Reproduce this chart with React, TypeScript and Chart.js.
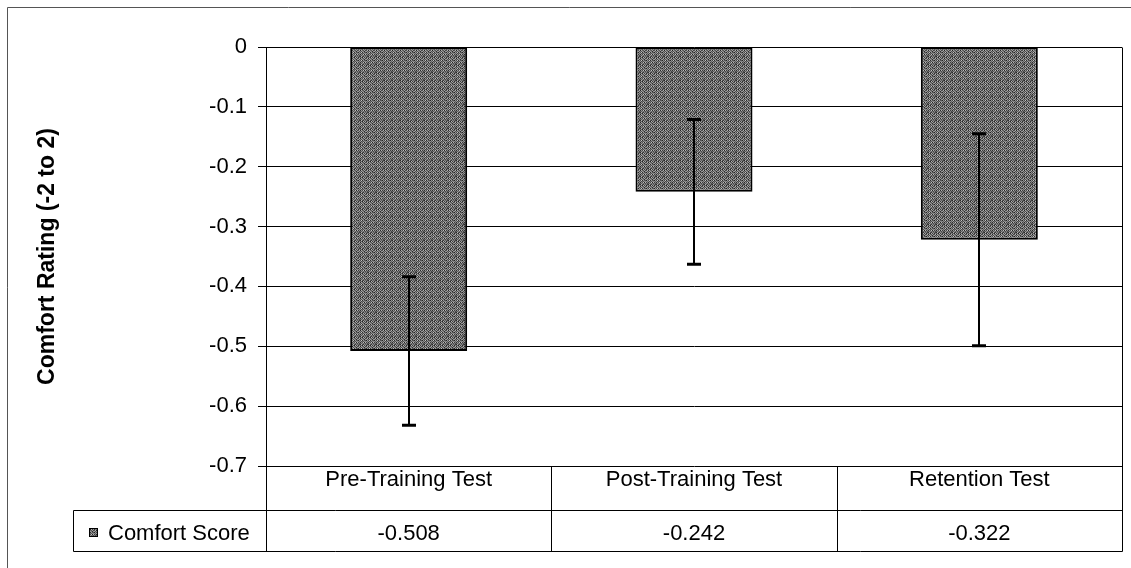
import React, { useEffect, useRef } from 'react';
import { Chart, registerables } from 'chart.js';

Chart.register(...registerables);

// ---- data ----
const categories = ['Pre-Training Test', 'Post-Training Test', 'Retention Test'];
const seriesName = 'Comfort Score';
const comfortScores = [-0.508, -0.242, -0.322];
const errorMargins = [0.124, 0.121, 0.177];
const yAxisTitle = 'Comfort Rating (-2 to 2)';
const yMin = -0.7;
const yMax = 0;
const yStep = 0.1;

const FONT = "'Liberation Sans', Arial, Helvetica, sans-serif";
const FONT_SIZE = 22;

function makePattern(): CanvasPattern | string {
  const c = document.createElement('canvas');
  const n = 8;
  c.width = n;
  c.height = n;
  const g = c.getContext('2d');
  if (!g) return '#6a6a6a';
  const shades = [
    [40, 150, 80, 30, 140, 70, 110, 35],
    [110, 70, 35, 150, 60, 125, 45, 95],
    [35, 140, 105, 55, 160, 40, 85, 145],
    [130, 50, 150, 90, 45, 115, 155, 50],
    [70, 165, 45, 125, 85, 55, 35, 120],
    [150, 40, 115, 50, 145, 95, 140, 65],
    [45, 120, 75, 160, 35, 150, 60, 105],
    [105, 60, 145, 70, 115, 45, 130, 40],
  ];
  for (let y = 0; y < n; y++) {
    for (let x = 0; x < n; x++) {
      let v = shades[y][x];
      if (x % 2 === 1) v = Math.min(200, v + 30);
      g.fillStyle = `rgb(${v},${v},${v})`;
      g.fillRect(x, y, 1, 1);
    }
  }
  const p = g.createPattern(c, 'repeat');
  return p || '#6a6a6a';
}

const errorBarPlugin = {
  id: 'errorBars',
  afterDatasetsDraw(chart: any) {
    const ctx = chart.ctx;
    const meta = chart.getDatasetMeta(0);
    const ys = chart.scales.y;
    ctx.save();
    ctx.strokeStyle = '#000';
    meta.data.forEach((el: any, i: number) => {
      const x = Math.round(el.x);
      const v = comfortScores[i];
      const e = errorMargins[i];
      const yTop = ys.getPixelForValue(v + e);
      const yBot = ys.getPixelForValue(v - e);
      ctx.lineWidth = 2;
      ctx.beginPath();
      ctx.moveTo(x, yTop);
      ctx.lineTo(x, yBot);
      ctx.stroke();
      ctx.lineWidth = 3;
      ctx.beginPath();
      ctx.moveTo(x - 7, yTop);
      ctx.lineTo(x + 7, yTop);
      ctx.moveTo(x - 7, yBot);
      ctx.lineTo(x + 7, yBot);
      ctx.stroke();
    });
    ctx.restore();
  },
};

const tablePlugin = {
  id: 'dataTable',
  afterDraw(chart: any) {
    const ctx = chart.ctx;
    const { left, right, top, bottom } = chart.chartArea;
    const xs = chart.scales.x;
    const half = (xs.getPixelForValue(1) - xs.getPixelForValue(0)) / 2;
    const row1Bot = bottom + 44;
    const row2Bot = bottom + 85;
    const labelLeft = 73;
    const a = (v: number) => Math.round(v) + 0.5;

    ctx.save();
    ctx.strokeStyle = '#000';
    ctx.lineWidth = 1;
    ctx.beginPath();
    ctx.moveTo(a(right), a(top));
    ctx.lineTo(a(right), a(row2Bot));
    ctx.moveTo(a(left), a(bottom));
    ctx.lineTo(a(left), a(row2Bot));
    for (let i = 0; i < categories.length - 1; i++) {
      const bx = xs.getPixelForValue(i) + half;
      ctx.moveTo(a(bx), a(bottom));
      ctx.lineTo(a(bx), a(row2Bot));
    }
    ctx.moveTo(a(labelLeft), a(row1Bot));
    ctx.lineTo(a(right), a(row1Bot));
    ctx.moveTo(a(labelLeft), a(row2Bot));
    ctx.lineTo(a(right), a(row2Bot));
    ctx.moveTo(a(labelLeft), a(row1Bot));
    ctx.lineTo(a(labelLeft), a(row2Bot));
    ctx.stroke();

    // outer chart frame (left & top visible)
    ctx.strokeStyle = '#555';
    ctx.beginPath();
    ctx.moveTo(7.5, chart.height);
    ctx.lineTo(7.5, 7.5);
    ctx.lineTo(chart.width, 7.5);
    ctx.stroke();

    ctx.fillStyle = '#000';
    ctx.font = `${FONT_SIZE}px ${FONT}`;
    ctx.textAlign = 'center';
    ctx.textBaseline = 'alphabetic';
    categories.forEach((c, i) => {
      const cx = xs.getPixelForValue(i);
      ctx.fillText(c, cx, bottom + 20);
      ctx.fillText(comfortScores[i].toFixed(3), cx, row2Bot - 11);
    });

    const tw = ctx.measureText(seriesName).width;
    const sw = 9;
    const gap = 10;
    const groupW = sw + gap + tw;
    const cellCenter = (labelLeft + left) / 2;
    const sx = Math.round(cellCenter - groupW / 2);
    const sy = row2Bot - 23;
    ctx.fillStyle = chart.data.datasets[0].backgroundColor;
    ctx.fillRect(sx, sy, sw, sw);
    ctx.strokeStyle = '#000';
    ctx.strokeRect(sx + 0.5, sy + 0.5, sw - 1, sw - 1);
    ctx.fillStyle = '#000';
    ctx.textAlign = 'left';
    ctx.fillText(seriesName, sx + sw + gap, row2Bot - 11);
    ctx.restore();
  },
};

export default function App() {
  const ref = useRef<HTMLCanvasElement | null>(null);

  useEffect(() => {
    if (!ref.current) return;
    const pattern = makePattern();
    const chart = new Chart(ref.current, {
      type: 'bar',
      data: {
        labels: categories,
        datasets: [
          {
            label: seriesName,
            data: comfortScores,
            backgroundColor: pattern as any,
            borderColor: '#000',
            borderWidth: 2,
            borderSkipped: false,
            barPercentage: 0.41,
            categoryPercentage: 1,
          },
        ],
      },
      options: {
        animation: false,
        responsive: false,
        devicePixelRatio: 1,
        layout: { padding: { left: 0, top: 47, right: 9, bottom: 102 } },
        plugins: {
          legend: { display: false },
          tooltip: { enabled: false },
        },
        scales: {
          x: {
            display: false,
            grid: { display: false },
          },
          y: {
            min: yMin,
            max: yMax,
            afterFit: (s: any) => {
              s.width = 266;
            },
            ticks: {
              stepSize: yStep,
              padding: 11,
              color: '#000',
              font: { family: FONT, size: FONT_SIZE },
              callback: (v: any) => {
                const r = Math.round(Number(v) * 10) / 10;
                return r === 0 ? '0' : String(r);
              },
            },
            grid: {
              color: '#000',
              lineWidth: 1,
              drawTicks: true,
              tickLength: 8,
            },
            border: { display: true, color: '#000', width: 1 },
            title: {
              display: true,
              text: yAxisTitle,
              color: '#000',
              font: { family: FONT, size: 23, weight: 'bold' },
              padding: { top: 34, bottom: 0 },
            },
          },
        },
      },
      plugins: [errorBarPlugin, tablePlugin],
    });
    return () => chart.destroy();
  }, []);

  return (
    <div style={{ position: 'absolute', left: 0, top: 0, width: 1131, height: 568, background: '#fff' }}>
      <canvas ref={ref} width={1131} height={568} style={{ display: 'block' }} />
    </div>
  );
}
